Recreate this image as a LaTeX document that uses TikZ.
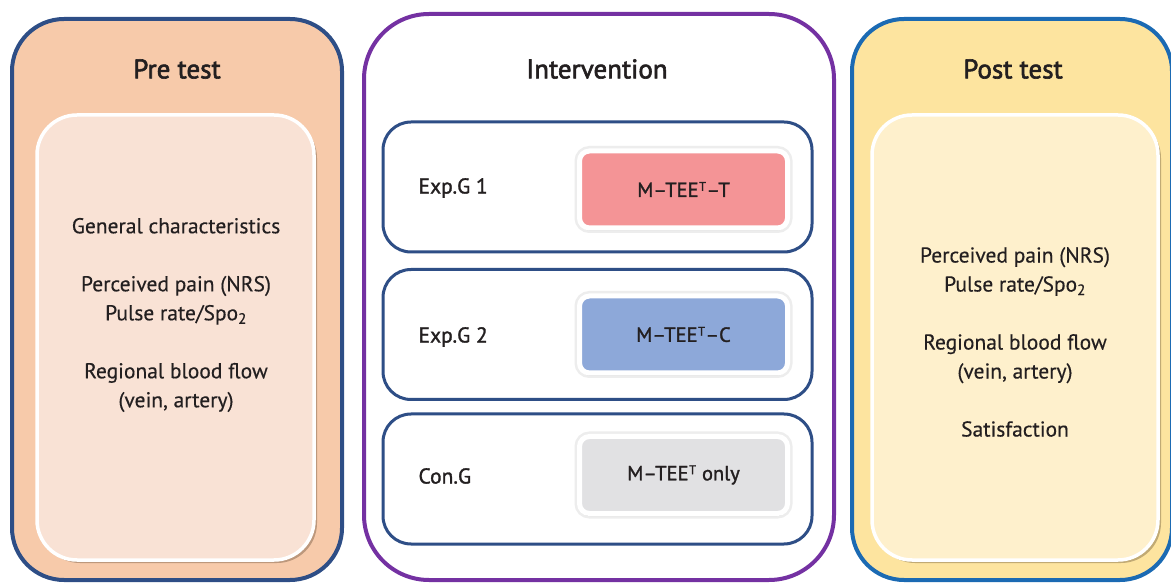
\documentclass[tikz,border=0pt]{standalone}
\usepackage{fontspec}
\setmainfont{PT Sans}[FakeBold=0.35]
\newfontfamily\medfont{PT Sans}[FakeBold=2.2]
\newfontfamily\semifont{PT Sans}[FakeBold=1.4]
\usetikzlibrary{shadows}

\definecolor{preFill}{HTML}{F7CAAA}
\definecolor{preInner}{HTML}{F9E2D5}
\definecolor{navy}{HTML}{2E4E86}
\definecolor{violet}{HTML}{7431A2}
\definecolor{postBlue}{HTML}{1B6AB3}
\definecolor{postFill}{HTML}{FDE49F}
\definecolor{postInner}{HTML}{FEF0CC}
\definecolor{btnRed}{HTML}{F49496}
\definecolor{btnBlue}{HTML}{8DA8D9}
\definecolor{btnGray}{HTML}{E1E1E3}
\definecolor{ink}{HTML}{231F20}

% small raised T used in the treatment names
\newcommand\supT{\kern0.5pt\raisebox{0.3em}{\fontsize{12.5}{12.5}\selectfont T}\kern0.5pt}

\tikzset{
  stage/.style={draw, line width=4pt, rounded corners=52pt, inner sep=0pt},
  panel/.style={draw=white, line width=3.5pt, rounded corners=40pt, inner sep=0pt,
    drop shadow={shadow xshift=3pt, shadow yshift=-3pt, opacity=0.30, fill=black!70!brown}},
  group/.style={draw=navy, fill=white, line width=3pt, rounded corners=28pt, inner sep=0pt,
    minimum width=429pt, minimum height=130pt},
  btn/.style={draw=white, line width=5pt, rounded corners=10pt, inner sep=0pt,
    minimum width=208pt, minimum height=77pt,
    preaction={draw=black!7, line width=10pt},
    drop shadow={shadow xshift=0pt, shadow yshift=-2.5pt, opacity=0.15, fill=black},
    text=ink, font=\semifont\fontsize{20.5}{24}\selectfont},
  title/.style={text=ink, font=\medfont\fontsize{27}{30}\selectfont},
  body/.style={text=ink, align=center, font=\fontsize{21.5}{29}\selectfont},
  glabel/.style={text=ink, anchor=west, font=\semifont\fontsize{21.5}{24}\selectfont},
}

\begin{document}
\begin{tikzpicture}[x=1pt, y=-1pt]
\useasboundingbox (0,0) rectangle (1171,585);

% Pre test column
\node[stage, draw=navy, fill=preFill, minimum width=330pt, minimum height=561pt] (pre) at (177,299.5) {};
\node[title] (pretitle) at (177,69) {Pre test};
\node[panel, fill=preInner, minimum width=277pt, minimum height=445pt] (preinner) at (175.5,337.5) {};
\node[body] (pretext) at (176,315) {General characteristics\\[29pt]
  Perceived pain (NRS)\\ Pulse rate/Spo\textsubscript{2}\\[29pt]
  Regional blood flow\\ (vein, artery)};

% Intervention column
\node[stage, draw=violet, fill=white, rounded corners=65pt, minimum width=470pt, minimum height=566pt] (int) at (599,297) {};
\node[title] (inttitle) at (597,69) {Intervention};

\node[group] (g1) at (597.5,187) {};
\node[group] (g2) at (597.5,334.5) {};
\node[group] (g3) at (597.5,479) {};

\node[glabel] (l1) at (415,188) {Exp.G 1};
\node[glabel] (l2) at (415,337) {Exp.G 2};
\node[glabel] (l3) at (415,476) {Con.G};

\node[btn, fill=btnRed] (b1) at (683.5,189.5) {M–TEE\supT–T};
\node[btn, fill=btnBlue] (b2) at (683.5,334.5) {M–TEE\supT–C};
\node[btn, fill=btnGray] (b3) at (683.5,475) {M–TEE\supT{} only};

% Post test column
\node[stage, draw=postBlue, fill=postFill, minimum width=320pt, minimum height=561pt] (post) at (1012,299.5) {};
\node[title] (posttitle) at (1013,69) {Post test};
\node[panel, fill=postInner, minimum width=286pt, minimum height=445pt] (postinner) at (1015,337.5) {};
\node[body] (posttext) at (1015,342) {Perceived pain (NRS)\\ Pulse rate/Spo\textsubscript{2}\\[29pt]
  Regional blood flow\\ (vein, artery)\\[29pt]
  Satisfaction};
\end{tikzpicture}
\end{document}
